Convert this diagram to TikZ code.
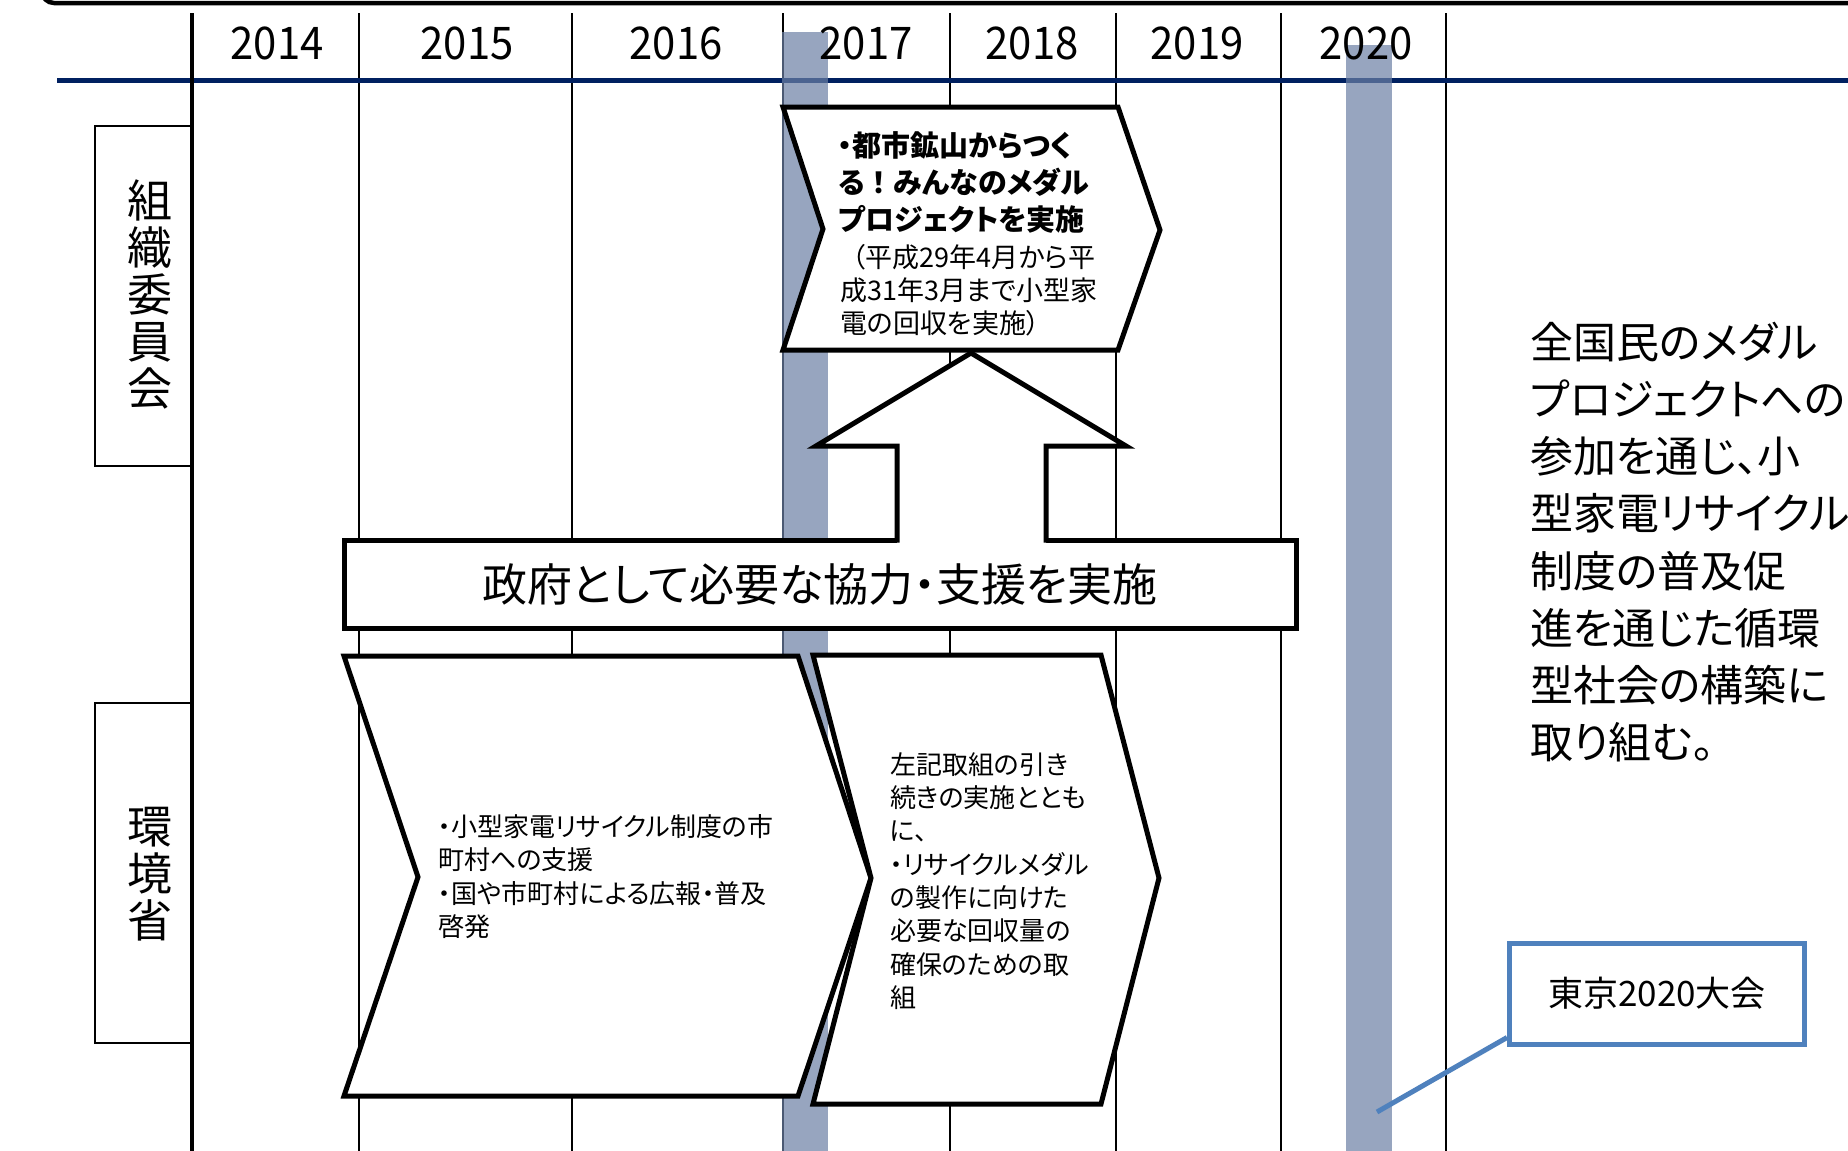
\documentclass[tikz,border=0pt]{standalone}
\usepackage{fontspec}
\setmainfont{Noto Sans CJK JP}[RawFeature={+palt}]
\usetikzlibrary{calc}
\definecolor{navy}{HTML}{002060}
\definecolor{barblue}{HTML}{6C80A5}
\definecolor{callout}{HTML}{4F81BD}
\begin{document}
\begin{tikzpicture}[x=1pt,y=-1pt,
  thinline/.style={line width=1.5pt,black},
  bigline/.style={line width=5pt,black,line join=miter},
  lblbox/.style={draw=black,line width=1.8pt,fill=white,inner sep=0pt},
  yr/.style={inner sep=0pt,font=\fontsize{45}{50}\selectfont},
  vlbl/.style={inner sep=0pt,align=center,font=\fontsize{45}{47}\selectfont},
  chevtxt/.style={inner sep=0pt,align=left,anchor=west,font=\fontsize{26}{33.3}\selectfont},
  boldtxt/.style={inner sep=0pt,align=left,anchor=west,font=\fontsize{29}{37}\selectfont\bfseries},
  bigtxt/.style={inner sep=0pt,align=left,anchor=west,font=\fontsize{43}{57.2}\selectfont},
  govbox/.style={draw=black,line width=5pt,fill=white,minimum width=952pt,minimum height=88pt,inner sep=0pt,font=\fontsize{45}{50}\selectfont},
  tokyobox/.style={draw=callout,line width=5pt,fill=white,minimum width=295pt,minimum height=101pt,inner sep=0pt,font=\fontsize{35}{40}\selectfont},
  bar/.style={fill=barblue,opacity=0.7}
]
\useasboundingbox (0,0) rectangle (1848,1151);
\fill[white] (0,0) rectangle (1848,1151);

% top frame
\draw[line width=4.5pt,rounded corners=12pt] (42,-60) -- (42,3) -- (1900,3);

% year grid lines
\foreach \xx in {359,572,783,950,1116,1281,1446}
  \draw[thinline] (\xx,13) -- (\xx,1151);

% navy axis
\draw[navy,line width=5pt] (57,80) -- (1848,80);

% highlight bars
\fill[bar] (782,32) rectangle (828,1151);
\fill[bar] (1346,45) rectangle (1392,1151);

% label boxes
\node[lblbox,minimum width=97pt,minimum height=340pt] (orgbox) at (143.5,296) {};
\node[lblbox,minimum width=97pt,minimum height=340pt] (envbox) at (143.5,873) {};
\node[vlbl] (orglbl) at (150,294) {組\\織\\委\\員\\会};
\node[vlbl] (envlbl) at (150,874) {環\\境\\省};

% thick left axis
\draw[line width=4.5pt] (192,13) -- (192,1151);

% years
\node[yr] (y14) at (277,43) {\scalebox{0.93}[1]{2014}};
\node[yr] (y15) at (467,43) {\scalebox{0.93}[1]{2015}};
\node[yr] (y16) at (676,43) {\scalebox{0.93}[1]{2016}};
\node[yr] (y17) at (866,43) {\scalebox{0.93}[1]{2017}};
\node[yr] (y18) at (1032,43) {\scalebox{0.93}[1]{2018}};
\node[yr] (y19) at (1197,43) {\scalebox{0.93}[1]{2019}};
\node[yr] (y20) at (1366,43) {\scalebox{0.93}[1]{2020}};

% government support box
\node[govbox] (gov) at (820,584) {政府として必要な協力・支援を実施};

% up arrow
\fill[white] (897,543) -- (897,446) -- (816,446) -- (971,353) -- (1126,446) -- (1046,446) -- (1046,543) -- cycle;
\draw[bigline] (897,542.5) -- (897,446) -- (816,446) -- (971,353) -- (1126,446) -- (1046,446) -- (1046,542.5);

% top chevron
\filldraw[bigline,fill=white] (783,107) -- (1118,107) -- (1160,230) -- (1118,350) -- (783,350) -- (823,229) -- cycle;
\node[boldtxt] (medal) at (838,182) {・都市鉱山からつく\\る\hspace{0.25em}！\hspace{0.25em}みんなのメダル\\プロジェクトを実施};
\node[chevtxt,font=\fontsize{27}{33}\selectfont] (period) at (840,290) {\hspace*{0.45em}（平成29年4月から平\\成31年3月まで小型家\\電の回収を実施）};

% bottom chevrons
\filldraw[bigline,fill=white] (344,656) -- (798,656) -- (871,878) -- (798,1096) -- (344,1096) -- (418,877) -- cycle;
\filldraw[bigline,fill=white] (813,655) -- (1101,655) -- (1159,878) -- (1101,1104) -- (813,1104) -- (871,878) -- cycle;
\node[chevtxt] (env1) at (438,876.5) {・小型家電リサイクル制度の市\\町村への支援\\・国や市町村による広報・普及\\啓発};
\node[chevtxt] (env2) at (890,881) {左記取組の引き\\続きの実施ととも\\に、\\・リサイクルメダル\\の製作に向けた\\必要な回収量の\\確保のための取\\組};

% right text
\node[bigtxt] (goal) at (1530,542) {全国民のメダル\\プロジェクトへの\\参加を通じ、小\\型家電リサイクル\\制度の普及促\\進を通じた循環\\型社会の構築に\\取り組む。};

% Tokyo 2020 callout
\node[tokyobox] (tokyo) at (1657,993.5) {東京2020大会};
\coordinate (barpt) at (1377,1112);
\draw[callout,line width=5pt] ($(tokyo.south west)+(0,-9)$) -- (barpt);
\end{tikzpicture}
\end{document}
